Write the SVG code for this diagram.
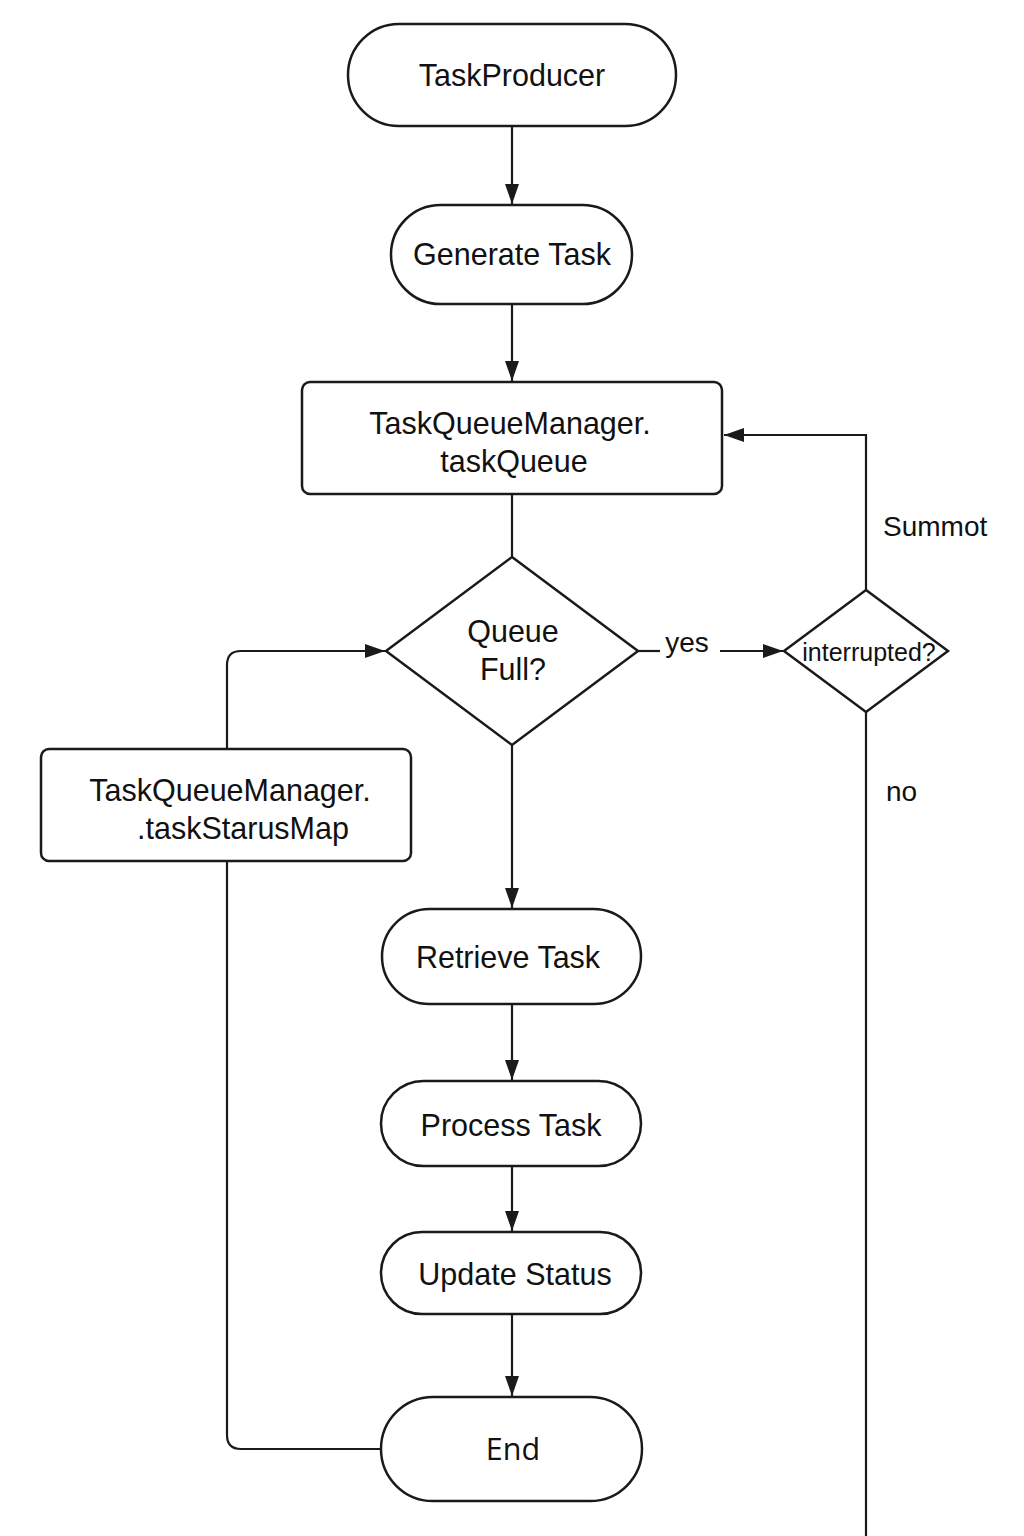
<svg xmlns="http://www.w3.org/2000/svg" width="1024" height="1536" viewBox="0 0 1024 1536">
<style>
.n{fill:#fff;stroke:#1a1a1a;stroke-width:2.5}
.c{fill:none;stroke:#1a1a1a;stroke-width:2.2}
text{font-family:"Liberation Sans",Arial,sans-serif;font-size:30.5px;fill:#111;text-anchor:middle}
.s{font-size:25px}
.l{text-anchor:start;font-size:28px}
</style>
<defs>
<marker id="b" viewBox="0 0 20 14" refX="20" refY="7" markerWidth="20" markerHeight="14" markerUnits="userSpaceOnUse" orient="auto">
<path d="M0,0 L20,7 L0,14 z" fill="#1a1a1a"/>
</marker>
</defs>
<rect width="1024" height="1536" fill="#fff"/>
<g id="connectors">
<path class="c" d="M512,126 V204" marker-end="url(#b)"/>
<path class="c" d="M512,304 V381" marker-end="url(#b)"/>
<path class="c" d="M512,494 V557"/>
<path class="c" d="M638,651 H660"/>
<path class="c" d="M720,651 H783" marker-end="url(#b)"/>
<path class="c" d="M866,590 V435 H724" marker-end="url(#b)"/>
<path class="c" d="M866,712 V1536"/>
<path class="c" d="M512,745 V908" marker-end="url(#b)"/>
<path class="c" d="M512,1004 V1080" marker-end="url(#b)"/>
<path class="c" d="M512,1166 V1231" marker-end="url(#b)"/>
<path class="c" d="M512,1314 V1396" marker-end="url(#b)"/>
<path class="c" d="M381,1449 H241 Q227,1449 227,1435 V862"/>
<path class="c" d="M227,749 V665 Q227,651 241,651 H385" marker-end="url(#b)"/>
<text x="687" y="652" class="l" style="text-anchor:middle">yes</text>
<text x="883" y="536" class="l">Summot</text>
<text x="886" y="801" class="l">no</text>
</g>
<g id="taskProducer">
<rect class="n" x="348" y="24" width="328" height="102" rx="51"/>
<text x="512" y="86">TaskProducer</text>
</g>
<g id="generateTask">
<rect class="n" x="391" y="205" width="241" height="99" rx="49.5"/>
<text x="512" y="265">Generate Task</text>
</g>
<g id="taskQueue">
<rect class="n" x="302" y="382" width="420" height="112" rx="8"/>
<text x="510" y="434">TaskQueueManager.</text>
<text x="514" y="472">taskQueue</text>
</g>
<g id="queueFull">
<polygon class="n" points="512,557 638,651 512,745 386,651"/>
<text x="513" y="642">Queue</text>
<text x="513" y="680">Full?</text>
</g>
<g id="interrupted">
<polygon class="n" points="866,590 948,651 866,712 784,651"/>
<text x="869" y="661" class="s">interrupted?</text>
</g>
<g id="taskStatusMap">
<rect class="n" x="41" y="749" width="370" height="112" rx="8"/>
<text x="230" y="801">TaskQueueManager.</text>
<text x="243" y="839">.taskStarusMap</text>
</g>
<g id="retrieveTask">
<rect class="n" x="382" y="909" width="259" height="95" rx="47.5"/>
<text x="508" y="968">Retrieve Task</text>
</g>
<g id="processTask">
<rect class="n" x="381" y="1081" width="260" height="85" rx="42.5"/>
<text x="511" y="1136">Process Task</text>
</g>
<g id="updateStatus">
<rect class="n" x="381" y="1232" width="260" height="82" rx="41"/>
<text x="515" y="1285">Update Status</text>
</g>
<g id="end">
<rect class="n" x="381" y="1397" width="261" height="104" rx="52"/>
<text x="513" y="1460" style="font-family:'Open Sans','Liberation Sans',sans-serif">End</text>
</g>
</svg>
